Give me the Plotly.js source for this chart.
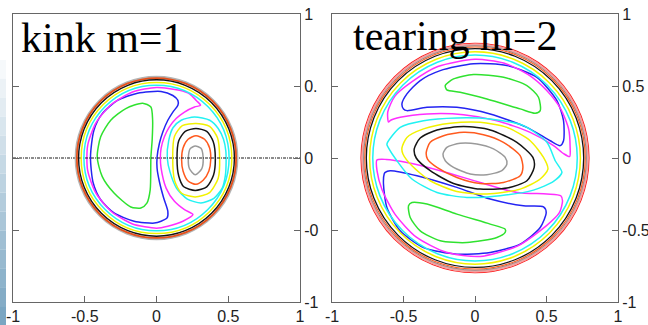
<!DOCTYPE html>
<html>
<head>
<meta charset="utf-8">
<script src="https://cdn.plot.ly/plotly-3.0.1.min.js"></script>
<style>
  html, body { margin: 0; padding: 0; background: #ffffff; }
  #chart { width: 648px; height: 325px; }
</style>
</head>
<body>
<div id="chart"></div>
<script>
// ---------- flux-surface contours, kink m=1 ----------
// concentric outer surfaces (radius of each ring)
const kinkRingRadii = [0.562, 0.555, 0.543, 0.525, 0.506];

// island on the left (green) and its enclosing surfaces
const kinkGreenX = [-0.097, -0.039, -0.027, -0.030, -0.039, -0.044, -0.067, -0.109, -0.179, -0.296, -0.378, -0.413, -0.389, -0.319, -0.214, -0.097];
const kinkGreenY = [0.381, 0.354, 0.262, 0.130, 0.005, -0.221, -0.313, -0.347, -0.340, -0.243, -0.129, 0.005, 0.147, 0.262, 0.343, 0.381];

const kinkBlueX = [0.032, 0.114, 0.149, 0.149, 0.114, 0.079, 0.044, 0.020, 0.004, 0.004, 0.020, 0.050, 0.079, 0.074, 0.032, -0.015, -0.156, -0.296, -0.389, -0.441, -0.460, -0.436, -0.378, -0.272, -0.132, 0.032];
const kinkBlueY = [0.462, 0.434, 0.400, 0.366, 0.319, 0.262, 0.181, 0.101, 0.005, -0.071, -0.163, -0.278, -0.370, -0.416, -0.439, -0.452, -0.439, -0.381, -0.290, -0.174, 0.005, 0.193, 0.308, 0.400, 0.450, 0.462];

const kinkMagentaX = [0, 0.160, 0.230, 0.277, 0.307, 0.265, 0.195, 0.137, 0.090, 0.055, 0.032, 0.027, 0.032, 0.067, 0.125, 0.195, 0.254, 0.184, 0.079, 0, -0.167, -0.313, -0.422, -0.480, -0.480, -0.422, -0.313, -0.167, 0];
const kinkMagentaY = [0.490, 0.470, 0.446, 0.400, 0.366, 0.354, 0.319, 0.274, 0.216, 0.147, 0.067, 0.005, -0.071, -0.209, -0.301, -0.359, -0.393, -0.439, -0.474, -0.487, -0.458, -0.373, -0.244, -0.085, 0.085, 0.244, 0.373, 0.458, 0.490];

// displaced core on the right (O-point)
const kinkCoreCyanX = [0.265, 0.371, 0.430, 0.467, 0.483, 0.485, 0.480, 0.458, 0.400, 0.310, 0.215, 0.140, 0.095, 0.075, 0.085, 0.115, 0.172, 0.265];
const kinkCoreCyanY = [0.285, 0.262, 0.205, 0.130, 0.050, -0.030, -0.120, -0.209, -0.280, -0.312, -0.285, -0.210, -0.100, 0.000, 0.120, 0.210, 0.262, 0.285];

const kinkCoreYellowX = [0.275, 0.370, 0.425, 0.440, 0.430, 0.370, 0.270, 0.175, 0.127, 0.113, 0.125, 0.180, 0.275];
const kinkCoreYellowY = [0.240, 0.220, 0.140, 0.000, -0.140, -0.240, -0.270, -0.245, -0.160, 0.000, 0.150, 0.225, 0.240];

const kinkCoreBlackX = [0.275, 0.350, 0.395, 0.410, 0.397, 0.350, 0.270, 0.190, 0.155, 0.143, 0.155, 0.200, 0.275];
const kinkCoreBlackY = [0.205, 0.185, 0.115, -0.005, -0.120, -0.200, -0.225, -0.200, -0.125, -0.005, 0.120, 0.185, 0.205];

const kinkCoreOrangeX = [0.275, 0.335, 0.370, 0.378, 0.365, 0.325, 0.275, 0.220, 0.185, 0.175, 0.185, 0.220, 0.275];
const kinkCoreOrangeY = [0.155, 0.130, 0.070, -0.010, -0.090, -0.155, -0.183, -0.160, -0.090, -0.010, 0.070, 0.130, 0.155];

const kinkCoreGreyX = [0.270, 0.310, 0.325, 0.315, 0.270, 0.230, 0.222, 0.235, 0.270];
const kinkCoreGreyY = [0.083, 0.067, 0.000, -0.075, -0.117, -0.075, 0.000, 0.065, 0.083];

// horizontal reference line through the axis
const kinkMidplaneX = [-1, 1];
const kinkMidplaneY = [0, 0];

// ---------- flux-surface contours, tearing m=2 ----------
const tearRingRadii = [0.797, 0.787, 0.779, 0.771, 0.760, 0.737, 0.715];

const tearGreenUpperX = [-0.208, -0.150, -0.010, 0.200, 0.363, 0.444, 0.456, 0.421, 0.316, 0.083, -0.104, -0.197, -0.208];
const tearGreenUpperY = [0.503, 0.549, 0.580, 0.561, 0.503, 0.422, 0.329, 0.311, 0.341, 0.410, 0.457, 0.473, 0.503];

const tearGreenLowerX = [-0.465, -0.441, -0.336, -0.127, 0.106, 0.211, 0.211, 0.153, -0.057, -0.243, -0.383, -0.453, -0.465];
const tearGreenLowerY = [-0.332, -0.309, -0.320, -0.390, -0.459, -0.494, -0.517, -0.552, -0.587, -0.575, -0.506, -0.413, -0.332];

const tearBlueUpperX = [-0.500, -0.511, -0.476, -0.383, -0.243, -0.010, 0.223, 0.433, 0.573, 0.619, 0.619, 0.596, 0.526, 0.363, 0.106, -0.127, -0.336, -0.476, -0.500];
const tearBlueUpperY = [0.341, 0.376, 0.445, 0.538, 0.607, 0.654, 0.642, 0.560, 0.398, 0.259, 0.120, 0.086, 0.120, 0.213, 0.306, 0.352, 0.352, 0.329, 0.341];

const tearBlueLowerX = [-0.628, -0.593, -0.406, -0.127, 0.106, 0.339, 0.479, 0.498, 0.456, 0.316, 0.106, -0.127, -0.360, -0.523, -0.616, -0.640, -0.635, -0.628];
const tearBlueLowerY = [-0.100, -0.088, -0.123, -0.204, -0.285, -0.332, -0.339, -0.378, -0.483, -0.598, -0.656, -0.668, -0.622, -0.506, -0.344, -0.181, -0.111, -0.100];

const tearMagentaUpperX = [-0.605, -0.610, -0.560, -0.440, -0.260, 0.000, 0.200, 0.370, 0.500, 0.600, 0.655, 0.665, 0.662, 0.620, 0.549, 0.386, 0.153, -0.080, -0.336, -0.523, -0.590, -0.605];
const tearMagentaUpperY = [0.250, 0.320, 0.430, 0.530, 0.635, 0.685, 0.660, 0.580, 0.470, 0.340, 0.200, 0.080, 0.010, 0.030, 0.086, 0.178, 0.259, 0.301, 0.306, 0.283, 0.262, 0.250];

const tearMagentaLowerX = [-0.686, -0.620, -0.476, -0.243, 0.036, 0.293, 0.503, 0.600, 0.612, 0.590, 0.500, 0.300, 0.036, -0.200, -0.410, -0.560, -0.650, -0.685, -0.686];
const tearMagentaLowerY = [-0.014, -0.010, -0.031, -0.088, -0.170, -0.239, -0.250, -0.262, -0.297, -0.380, -0.470, -0.610, -0.684, -0.655, -0.550, -0.390, -0.220, -0.090, -0.014];

const tearCoreCyanX = [-0.616, -0.523, -0.360, -0.127, 0.106, 0.339, 0.503, 0.561, 0.608, 0.549, 0.409, 0.176, -0.057, -0.266, -0.441, -0.546, -0.605, -0.616];
const tearCoreCyanY = [0.097, 0.213, 0.259, 0.278, 0.271, 0.225, 0.109, -0.019, -0.100, -0.163, -0.223, -0.262, -0.274, -0.239, -0.146, -0.019, 0.070, 0.097];

const tearCoreYellowX = [-0.511, -0.476, -0.360, -0.173, 0.036, 0.223, 0.386, 0.479, 0.510, 0.456, 0.316, 0.083, -0.127, -0.313, -0.441, -0.504, -0.511];
const tearCoreYellowY = [0.070, 0.143, 0.202, 0.241, 0.248, 0.213, 0.120, 0.004, -0.077, -0.146, -0.216, -0.250, -0.232, -0.158, -0.054, 0.028, 0.070];

const tearCoreBlackX = [-0.425, -0.383, -0.266, -0.080, 0.106, 0.293, 0.405, 0.414, 0.363, 0.223, 0.036, -0.150, -0.313, -0.411, -0.425];
const tearCoreBlackY = [0.063, 0.139, 0.195, 0.218, 0.195, 0.109, 0.004, -0.065, -0.158, -0.209, -0.216, -0.177, -0.088, 0.000, 0.063];

const tearCoreOrangeX = [-0.341, -0.313, -0.220, -0.080, 0.059, 0.199, 0.316, 0.335, 0.316, 0.199, 0.036, -0.127, -0.266, -0.332, -0.341];
const tearCoreOrangeY = [0.039, 0.109, 0.155, 0.178, 0.162, 0.109, 0.016, -0.065, -0.123, -0.170, -0.177, -0.135, -0.065, -0.007, 0.039];

const tearCoreGreyX = [-0.224, -0.197, -0.104, 0.013, 0.129, 0.211, 0.223, 0.188, 0.083, -0.034, -0.150, -0.208, -0.224];
const tearCoreGreyY = [0.028, 0.074, 0.102, 0.097, 0.063, 0.004, -0.042, -0.088, -0.116, -0.111, -0.065, -0.019, 0.028];

// ---------- axis ticks and panel labels ----------
const tickValues = [-1, -0.5, 0, 0.5, 1];
const tickLabels = ['-1', '-0.5', '0', '0.5', '1'];
const kinkYTickLabels = ['-1', '-0', '0', '0.', '1'];
const panelTitles = ['kink m=1', 'tearing m=2'];

// ---------- styling ----------
const C = {
  green: '#2fe22f', blue: '#2424f2', magenta: '#ff2eff', cyan: '#22f2f2',
  yellow: '#f2f200', black: '#141414', orange: '#ff5a1e', grey: '#9a9a9a',
  red: '#ff1414', salmon: '#f2a0a0'
};
const kinkRingStyle = [
  { color: '#b4b4b4', width: 2.5 }, { color: '#e8501a', width: 1.8 },
  { color: C.black, width: 1.4 }, { color: C.yellow, width: 1.5 }, { color: C.cyan, width: 1.5 }
];
const tearRingStyle = [
  { color: C.red, width: 1.2 }, { color: C.salmon, width: 2.5 }, { color: '#8c8c8c', width: 1 },
  { color: C.orange, width: 1.2 }, { color: C.black, width: 1.3 },
  { color: C.yellow, width: 1.5 }, { color: C.cyan, width: 1.5 }
];

function curve(x, y, color, xa, ya, extra) {
  return Object.assign({
    type: 'scatter', mode: 'lines', x: x, y: y,
    xaxis: xa, yaxis: ya, hoverinfo: 'skip', showlegend: false,
    line: { color: color, width: 1.5, shape: 'spline', smoothing: 0.7 }
  }, extra || {});
}

const traces = [
  curve(kinkGreenX, kinkGreenY, C.green, 'x', 'y'),
  curve(kinkBlueX, kinkBlueY, C.blue, 'x', 'y'),
  curve(kinkMagentaX, kinkMagentaY, C.magenta, 'x', 'y'),
  curve(kinkCoreCyanX, kinkCoreCyanY, C.cyan, 'x', 'y'),
  curve(kinkCoreYellowX, kinkCoreYellowY, C.yellow, 'x', 'y'),
  curve(kinkCoreBlackX, kinkCoreBlackY, C.black, 'x', 'y'),
  curve(kinkCoreOrangeX, kinkCoreOrangeY, C.orange, 'x', 'y'),
  curve(kinkCoreGreyX, kinkCoreGreyY, C.grey, 'x', 'y'),
  curve(kinkMidplaneX, kinkMidplaneY, '#1a1a1a', 'x', 'y', { line: { color: '#1a1a1a', width: 1, dash: '3px,1px,1px,1px' } }),

  curve(tearGreenUpperX, tearGreenUpperY, C.green, 'x2', 'y2'),
  curve(tearGreenLowerX, tearGreenLowerY, C.green, 'x2', 'y2'),
  curve(tearBlueUpperX, tearBlueUpperY, C.blue, 'x2', 'y2'),
  curve(tearBlueLowerX, tearBlueLowerY, C.blue, 'x2', 'y2'),
  curve(tearMagentaUpperX, tearMagentaUpperY, C.magenta, 'x2', 'y2'),
  curve(tearMagentaLowerX, tearMagentaLowerY, C.magenta, 'x2', 'y2'),
  curve(tearCoreCyanX, tearCoreCyanY, C.cyan, 'x2', 'y2'),
  curve(tearCoreYellowX, tearCoreYellowY, C.yellow, 'x2', 'y2'),
  curve(tearCoreBlackX, tearCoreBlackY, C.black, 'x2', 'y2'),
  curve(tearCoreOrangeX, tearCoreOrangeY, C.orange, 'x2', 'y2'),
  curve(tearCoreGreyX, tearCoreGreyY, C.grey, 'x2', 'y2')
];

// outer flux surfaces as circles in data coordinates
const shapes = [];
kinkRingRadii.forEach((r, i) => shapes.push({
  type: 'circle', xref: 'x', yref: 'y', x0: -r, x1: r, y0: -r, y1: r,
  line: kinkRingStyle[i], layer: 'above'
}));
tearRingRadii.forEach((r, i) => shapes.push({
  type: 'circle', xref: 'x2', yref: 'y2', x0: -r, x1: r, y0: -r, y1: r,
  line: tearRingStyle[i], layer: 'above'
}));

// pale blue edge strip on the far left, fading in toward the bottom
const stripSteps = 14;
for (let i = 0; i < stripSteps; i++) {
  const t = (i + 1) / stripSteps;
  const r = Math.round(255 - t * (255 - 122));
  const g = Math.round(255 - t * (255 - 166));
  const b = Math.round(255 - t * (255 - 194));
  shapes.push({
    type: 'rect', xref: 'paper', yref: 'paper',
    x0: 0, x1: 6 / 648,
    y0: 1 - (60 + (i + 1) * (265 / stripSteps)) / 325,
    y1: 1 - (60 + i * (265 / stripSteps)) / 325,
    fillcolor: 'rgb(' + r + ',' + g + ',' + b + ')', line: { width: 0 }, layer: 'below'
  });
}

const tickFont = { family: 'Liberation Sans, Arial, sans-serif', size: 16, color: '#222' };
function xAxis(domain, anchor) {
  return {
    domain: domain, range: [-1, 1], anchor: anchor,
    tickmode: 'array', tickvals: tickValues, ticktext: tickLabels,
    ticks: 'inside', ticklen: 6, tickwidth: 1, tickcolor: '#666',
    showline: true, linecolor: '#666', linewidth: 1, mirror: true,
    showgrid: false, zeroline: false, tickfont: tickFont, fixedrange: true
  };
}
function yAxis(labels, anchor) {
  return {
    domain: [23 / 325, 311 / 325], range: [-1, 1], anchor: anchor, side: 'right',
    tickmode: 'array', tickvals: tickValues, ticktext: labels,
    ticks: 'inside', ticklen: 6, tickwidth: 1, tickcolor: '#666',
    showline: true, linecolor: '#666', linewidth: 1, mirror: 'ticks',
    showgrid: false, zeroline: false, tickfont: tickFont, fixedrange: true
  };
}

const titleFont = { family: 'Liberation Serif, Times New Roman, serif', size: 42, color: '#000' };
const layout = {
  width: 648, height: 325,
  margin: { l: 0, r: 0, t: 0, b: 0 },
  paper_bgcolor: '#ffffff', plot_bgcolor: '#ffffff',
  showlegend: false,
  xaxis: xAxis([13 / 648, 300 / 648], 'y'),
  yaxis: yAxis(kinkYTickLabels, 'x'),
  xaxis2: xAxis([332 / 648, 618 / 648], 'y2'),
  yaxis2: yAxis(tickLabels, 'x2'),
  shapes: shapes,
  annotations: [
    { text: panelTitles[0], xref: 'paper', yref: 'paper', x: 19 / 648, y: 1 - 38 / 325,
      xanchor: 'left', yanchor: 'middle', showarrow: false, font: titleFont },
    { text: panelTitles[1], xref: 'paper', yref: 'paper', x: 351 / 648, y: 1 - 36 / 325,
      xanchor: 'left', yanchor: 'middle', showarrow: false, font: titleFont }
  ]
};

Plotly.newPlot('chart', traces, layout, { displayModeBar: false, staticPlot: true });
</script>
</body>
</html>
